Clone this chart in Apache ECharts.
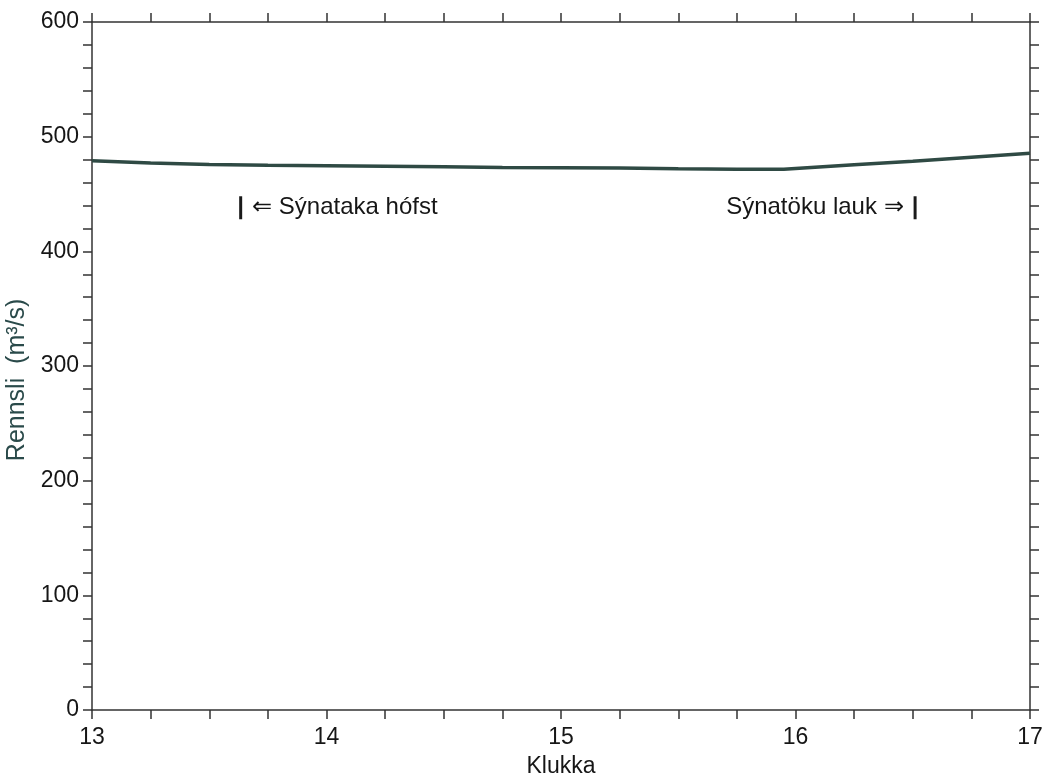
<!DOCTYPE html>
<html><head><meta charset="utf-8">
<script src="https://cdn.jsdelivr.net/npm/echarts@6/dist/echarts.min.js"></script>
<style>html,body{margin:0;padding:0;background:#fff}#c{width:1050px;height:778px}</style>
</head><body><div id="c"></div>
<script>
const hours = [13.0, 13.25, 13.5, 13.75, 14.0, 14.25, 14.5, 14.75, 15.0, 15.25, 15.5, 15.75, 15.95, 16.25, 16.5, 16.75, 17.0];
const flow  = [479, 477, 475.8, 475, 474.7, 474.2, 473.7, 473.2, 473, 472.6, 472, 471.6, 471.5, 475.5, 478.5, 482, 485.5];
const startMark = [13.634, 438];
const endMark = [16.51, 438];
const startLabel = '⇐ Sýnataka hófst';
const endLabel = 'Sýnatöku lauk ⇒';
const xName = 'Klukka';
const yName = 'Rennsli  (m³/s)';

const axisCol = '#333';
const txt = '#161616';
const font = 'Liberation Sans, Arial, sans-serif';
const chart = echarts.init(document.getElementById('c'), null, {renderer:'canvas'});
const common = {
  axisLine:{show:true, onZero:false, lineStyle:{color:axisCol, width:1.5}},
  axisTick:{show:true, inside:false, length:9, lineStyle:{color:axisCol, width:1.5}},
  splitLine:{show:false},
};
chart.setOption({
  animation:false,
  grid:{left:92, right:20, top:22, bottom:68, containLabel:false, outerBoundsMode:'none'},
  xAxis:[
    Object.assign({type:'value', position:'bottom', min:13, max:17, interval:1,
      minorTick:{show:true, splitNumber:4, length:9, lineStyle:{color:axisCol, width:1.5}},
      axisLabel:{color:txt, fontSize:23, fontFamily:font, margin:16},
      name:xName, nameLocation:'middle', nameGap:45,
      nameTextStyle:{color:txt, fontSize:23, fontFamily:font}}, common),
    Object.assign({type:'value', position:'top', min:13, max:17, interval:1,
      minorTick:{show:true, splitNumber:4, length:9, lineStyle:{color:axisCol, width:1.5}},
      axisLabel:{show:false}}, common)
  ],
  yAxis:[
    Object.assign({type:'value', position:'left', min:0, max:600, interval:100,
      minorTick:{show:true, splitNumber:5, length:9, lineStyle:{color:axisCol, width:1.5}},
      axisLabel:{color:txt, fontSize:23, fontFamily:font, margin:13},
      name:yName, nameLocation:'middle', nameGap:58, nameRotate:90,
      nameTextStyle:{color:'#2a4a4a', fontSize:25, fontFamily:font,
        padding:[0, 0, 0, 0], align:'center'},
      }, common),
    Object.assign({type:'value', position:'right', min:0, max:600, interval:100,
      minorTick:{show:true, splitNumber:5, length:9, lineStyle:{color:axisCol, width:1.5}},
      axisLabel:{show:false}}, common)
  ],
  series:[
    {type:'line', xAxisIndex:0, yAxisIndex:0, data:hours.map((h,i)=>[h,flow[i]]),
     showSymbol:false, symbol:'none', lineStyle:{color:'#2f4a44', width:3.5}},
    {type:'scatter', xAxisIndex:0, yAxisIndex:0,
     data:[{value:startMark, label:{position:'right', distance:10, formatter:startLabel}},
           {value:endMark, label:{position:'left', distance:10, formatter:endLabel}}],
     symbol:'rect', symbolSize:[3,23], itemStyle:{color:'#1a1a1a', opacity:1},
     label:{show:true, color:txt, fontSize:24, fontFamily:font, opacity:1}}
  ]
});
// shift the y-axis title slightly downward (towards lower values), as in the reference
chart.setOption({yAxis:[{name: yName + '\u00a0\u00a0\u00a0\u00a0'}, {}]});
</script></body></html>
